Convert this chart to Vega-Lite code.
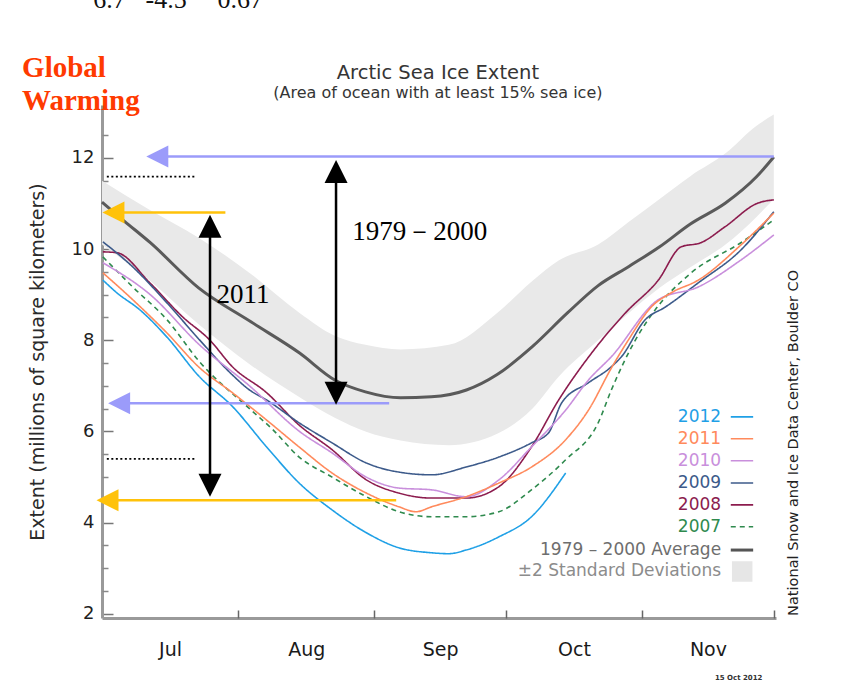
{
  "$schema": "https://vega.github.io/schema/vega-lite/v6.json",
  "width": 674,
  "height": 513,
  "autosize": {"type": "none"},
  "padding": {"left": 102, "top": 105, "right": 78, "bottom": 76},
  "background": "#ffffff",
  "config": {"view": {"stroke": null}, "font": "DejaVu Sans"},
  "datasets": {
    "band": [
      {"d": 0, "lo": 10.1, "hi": 11.5},
      {"d": 11, "lo": 9.3, "hi": 10.85},
      {"d": 22, "lo": 8.35, "hi": 10.25},
      {"d": 34, "lo": 7.45, "hi": 9.45},
      {"d": 45, "lo": 6.75, "hi": 8.6},
      {"d": 53, "lo": 6.3, "hi": 8.1},
      {"d": 60, "lo": 6.0, "hi": 7.9},
      {"d": 68, "lo": 5.8, "hi": 7.8},
      {"d": 79, "lo": 5.7, "hi": 7.9},
      {"d": 90, "lo": 5.95, "hi": 8.6},
      {"d": 98, "lo": 6.5, "hi": 9.3},
      {"d": 104, "lo": 7.2, "hi": 9.75},
      {"d": 113, "lo": 8.0, "hi": 10.1},
      {"d": 120, "lo": 8.6, "hi": 10.6},
      {"d": 127, "lo": 9.15, "hi": 11.1},
      {"d": 134, "lo": 9.6, "hi": 11.6},
      {"d": 142, "lo": 10.1, "hi": 12.1},
      {"d": 149, "lo": 10.7, "hi": 12.7},
      {"d": 153, "lo": 11.1, "hi": 12.95}
    ],
    "avg": [
      {"d": 0, "v": 11.03}, {"d": 5, "v": 10.62}, {"d": 11, "v": 10.14}, {"d": 22, "v": 9.15},
      {"d": 34, "v": 8.4}, {"d": 45, "v": 7.72}, {"d": 53, "v": 7.13}, {"d": 60, "v": 6.87},
      {"d": 68, "v": 6.74}, {"d": 75, "v": 6.76}, {"d": 83, "v": 6.91}, {"d": 90, "v": 7.25},
      {"d": 98, "v": 7.86}, {"d": 106, "v": 8.6}, {"d": 113, "v": 9.2}, {"d": 120, "v": 9.62},
      {"d": 127, "v": 10.05}, {"d": 134, "v": 10.55}, {"d": 142, "v": 11.01}, {"d": 149, "v": 11.58},
      {"d": 153, "v": 12.02}
    ],
    "years": [
      {"s": "2007", "d": 0.2, "v": 9.83}, {"s": "2007", "d": 7, "v": 9.17}, {"s": "2007", "d": 14.8, "v": 8.45},
      {"s": "2007", "d": 22.2, "v": 7.53}, {"s": "2007", "d": 33.6, "v": 6.5}, {"s": "2007", "d": 38.8, "v": 6.05},
      {"s": "2007", "d": 44.9, "v": 5.44}, {"s": "2007", "d": 52.4, "v": 5.0}, {"s": "2007", "d": 60.2, "v": 4.57},
      {"s": "2007", "d": 67.6, "v": 4.24}, {"s": "2007", "d": 75.1, "v": 4.13}, {"s": "2007", "d": 82.9, "v": 4.13},
      {"s": "2007", "d": 90.4, "v": 4.24}, {"s": "2007", "d": 97.8, "v": 4.72}, {"s": "2007", "d": 105.6, "v": 5.38},
      {"s": "2007", "d": 113, "v": 6.19}, {"s": "2007", "d": 116, "v": 6.91}, {"s": "2007", "d": 121.5, "v": 8.01},
      {"s": "2007", "d": 126, "v": 8.67}, {"s": "2007", "d": 134.2, "v": 9.48}, {"s": "2007", "d": 145.5, "v": 10.14},
      {"s": "2007", "d": 153, "v": 10.64},

      {"s": "2008", "d": 0.2, "v": 9.94}, {"s": "2008", "d": 3.4, "v": 9.92}, {"s": "2008", "d": 10.9, "v": 9.26},
      {"s": "2008", "d": 18.4, "v": 8.51}, {"s": "2008", "d": 24.5, "v": 8.01}, {"s": "2008", "d": 29.7, "v": 7.42},
      {"s": "2008", "d": 37.5, "v": 6.85}, {"s": "2008", "d": 44.9, "v": 6.14}, {"s": "2008", "d": 52.4, "v": 5.6},
      {"s": "2008", "d": 60.2, "v": 4.94}, {"s": "2008", "d": 67.6, "v": 4.65}, {"s": "2008", "d": 75.1, "v": 4.54},
      {"s": "2008", "d": 82.9, "v": 4.54}, {"s": "2008", "d": 90.4, "v": 4.79}, {"s": "2008", "d": 97.8, "v": 5.66},
      {"s": "2008", "d": 104, "v": 6.69}, {"s": "2008", "d": 111.5, "v": 7.72}, {"s": "2008", "d": 119.2, "v": 8.6},
      {"s": "2008", "d": 126.7, "v": 9.32}, {"s": "2008", "d": 131.9, "v": 10.05}, {"s": "2008", "d": 136.4, "v": 10.14},
      {"s": "2008", "d": 141.9, "v": 10.49}, {"s": "2008", "d": 149.4, "v": 11.01}, {"s": "2008", "d": 153, "v": 11.08},

      {"s": "2009", "d": 0.2, "v": 10.16}, {"s": "2009", "d": 7, "v": 9.61}, {"s": "2009", "d": 14.8, "v": 8.82},
      {"s": "2009", "d": 22.2, "v": 8.01}, {"s": "2009", "d": 29.7, "v": 7.24}, {"s": "2009", "d": 33.6, "v": 6.91},
      {"s": "2009", "d": 37.5, "v": 6.69}, {"s": "2009", "d": 44.9, "v": 6.19}, {"s": "2009", "d": 52.4, "v": 5.75},
      {"s": "2009", "d": 60.2, "v": 5.31}, {"s": "2009", "d": 67.6, "v": 5.11}, {"s": "2009", "d": 75.1, "v": 5.05},
      {"s": "2009", "d": 82.9, "v": 5.22}, {"s": "2009", "d": 90.4, "v": 5.44}, {"s": "2009", "d": 97.8, "v": 5.75},
      {"s": "2009", "d": 101.7, "v": 5.97}, {"s": "2009", "d": 104.7, "v": 6.63}, {"s": "2009", "d": 110.8, "v": 7.07},
      {"s": "2009", "d": 116, "v": 7.42}, {"s": "2009", "d": 118.3, "v": 7.64}, {"s": "2009", "d": 123.7, "v": 8.45},
      {"s": "2009", "d": 128.3, "v": 8.73}, {"s": "2009", "d": 135.8, "v": 9.26}, {"s": "2009", "d": 145.5, "v": 9.98},
      {"s": "2009", "d": 153, "v": 10.82},

      {"s": "2010", "d": 0.2, "v": 9.7}, {"s": "2010", "d": 11, "v": 9.0}, {"s": "2010", "d": 22.2, "v": 7.9},
      {"s": "2010", "d": 33.6, "v": 7.0}, {"s": "2010", "d": 45, "v": 6.0}, {"s": "2010", "d": 52.4, "v": 5.53},
      {"s": "2010", "d": 60.2, "v": 5.0}, {"s": "2010", "d": 67.6, "v": 4.76}, {"s": "2010", "d": 75.1, "v": 4.72},
      {"s": "2010", "d": 82.9, "v": 4.57}, {"s": "2010", "d": 90.4, "v": 4.94}, {"s": "2010", "d": 97.8, "v": 5.66},
      {"s": "2010", "d": 105.6, "v": 6.47}, {"s": "2010", "d": 110.8, "v": 7.13}, {"s": "2010", "d": 116, "v": 7.64},
      {"s": "2010", "d": 126.7, "v": 8.89}, {"s": "2010", "d": 135.8, "v": 9.17}, {"s": "2010", "d": 145.5, "v": 9.76},
      {"s": "2010", "d": 153, "v": 10.31},

      {"s": "2011", "d": 0.2, "v": 9.48}, {"s": "2011", "d": 7, "v": 8.89}, {"s": "2011", "d": 14.8, "v": 8.16},
      {"s": "2011", "d": 22.2, "v": 7.4}, {"s": "2011", "d": 29.7, "v": 6.85}, {"s": "2011", "d": 37.5, "v": 6.25},
      {"s": "2011", "d": 44.9, "v": 5.66}, {"s": "2011", "d": 52.4, "v": 5.09}, {"s": "2011", "d": 60.2, "v": 4.65},
      {"s": "2011", "d": 67.6, "v": 4.35}, {"s": "2011", "d": 71.5, "v": 4.24}, {"s": "2011", "d": 75.1, "v": 4.35},
      {"s": "2011", "d": 82.9, "v": 4.57}, {"s": "2011", "d": 90.4, "v": 4.87}, {"s": "2011", "d": 97.8, "v": 5.22},
      {"s": "2011", "d": 105.6, "v": 5.82}, {"s": "2011", "d": 110.8, "v": 6.47}, {"s": "2011", "d": 116, "v": 7.39},
      {"s": "2011", "d": 119.9, "v": 8.01}, {"s": "2011", "d": 125.1, "v": 8.73}, {"s": "2011", "d": 129.6, "v": 9.04},
      {"s": "2011", "d": 135.8, "v": 9.32}, {"s": "2011", "d": 145.5, "v": 10.09}, {"s": "2011", "d": 153, "v": 10.79},

      {"s": "2012", "d": 0.2, "v": 9.32}, {"s": "2012", "d": 3.4, "v": 9.04}, {"s": "2012", "d": 8.6, "v": 8.67},
      {"s": "2012", "d": 14.8, "v": 8.07}, {"s": "2012", "d": 22.2, "v": 7.2}, {"s": "2012", "d": 29.7, "v": 6.55},
      {"s": "2012", "d": 37.5, "v": 5.66}, {"s": "2012", "d": 44.9, "v": 4.87}, {"s": "2012", "d": 52.4, "v": 4.28},
      {"s": "2012", "d": 60.2, "v": 3.78}, {"s": "2012", "d": 67.6, "v": 3.45}, {"s": "2012", "d": 75.1, "v": 3.34},
      {"s": "2012", "d": 79, "v": 3.32}, {"s": "2012", "d": 82.9, "v": 3.4}, {"s": "2012", "d": 90.4, "v": 3.69},
      {"s": "2012", "d": 97.8, "v": 4.13}, {"s": "2012", "d": 105.6, "v": 5.09}
    ],
    "legend": [
      {"s": "2012", "label": "2012", "v": 6.32},
      {"s": "2011", "label": "2011", "v": 5.84},
      {"s": "2010", "label": "2010", "v": 5.36},
      {"s": "2009", "label": "2009", "v": 4.87},
      {"s": "2008", "label": "2008", "v": 4.39},
      {"s": "2007", "label": "2007", "v": 3.91},
      {"s": "avg", "label": "1979 – 2000 Average", "v": 3.4},
      {"s": "sd", "label": "±2 Standard Deviations", "v": 2.93}
    ],
    "hShafts": [
      {"kind": "1979–2000", "d1": 13, "d2": 153, "v": 12.03},
      {"kind": "1979–2000", "d1": 4.5, "d2": 65.4, "v": 6.62},
      {"kind": "2011", "d1": 3, "d2": 28.1, "v": 10.8},
      {"kind": "2011", "d1": 2, "d2": 67, "v": 4.49}
    ],
    "leftHeads": [
      {"kind": "1979–2000", "d": 12.6, "v": 12.03},
      {"kind": "1979–2000", "d": 3.9, "v": 6.62},
      {"kind": "2011", "d": 2.6, "v": 10.8},
      {"kind": "2011", "d": 1.25, "v": 4.49}
    ],
    "vShafts": [
      {"kind": "1979–2000", "d": 53.3, "v1": 11.7, "v2": 6.84},
      {"kind": "2011", "d": 24.6, "v1": 10.5, "v2": 4.82}
    ],
    "upHeads": [
      {"kind": "1979–2000", "d": 53.3, "v": 11.7},
      {"kind": "2011", "d": 24.6, "v": 10.5}
    ],
    "downHeads": [
      {"kind": "1979–2000", "d": 53.3, "v": 6.84},
      {"kind": "2011", "d": 24.6, "v": 4.82}
    ],
    "dotted": [
      {"d1": 1.1, "d2": 21.1, "v": 11.59},
      {"d1": 1.1, "d2": 21.1, "v": 5.4}
    ],
    "notes": [
      {"t": "1979－2000", "d": 57, "v": 10.37},
      {"t": "2011", "d": 26.1, "v": 9.0}
    ],
    "heading": [
      {"t": "Global", "d": -18.2, "v": 13.78},
      {"t": "Warming", "d": -18.2, "v": 13.05}
    ],
    "chartTitle": [
      {"t": "Arctic Sea Ice Extent", "d": 76.5, "v": 13.86, "kind": "main"},
      {"t": "(Area of ocean with at least 15% sea ice)", "d": 76.5, "v": 13.43, "kind": "sub"}
    ],
    "topcut": [
      {"t": "6.7", "d": -2.0, "v": 15.28},
      {"t": "-4.5", "d": 9.9, "v": 15.28},
      {"t": "0.67", "d": 26.3, "v": 15.28}
    ],
    "source": [
      {"t": "National Snow and Ice Data Center, Boulder CO", "d": 157.5, "v": 5.75}
    ],
    "stamp": [
      {"t": "15 Oct 2012", "d": 145, "v": 0.6}
    ]
  },
  "layer": [
    {
      "data": {"name": "band"},
      "mark": {"type": "area", "color": "#e9e9e9", "opacity": 1, "interpolate": "monotone"},
      "encoding": {
        "x": {"field": "d", "type": "quantitative", "scale": {"domain": [0, 153.5], "nice": false, "zero": false},
          "axis": {"orient": "bottom", "values": [15.5, 46.5, 77, 107.5, 138],
            "labelExpr": "datum.value < 30 ? 'Jul' : datum.value < 60 ? 'Aug' : datum.value < 90 ? 'Sep' : datum.value < 120 ? 'Oct' : 'Nov'",
            "ticks": false, "grid": false, "domainColor": "#9a9a9a", "domainWidth": 3,
            "labelFont": "DejaVu Sans", "labelFontSize": 19, "labelColor": "#1a1a1a", "labelPadding": 22, "title": null}},
        "y": {"field": "lo", "type": "quantitative", "scale": {"domain": [1.91, 13.16], "nice": false, "zero": false},
          "axis": {"orient": "left", "values": [2, 4, 6, 8, 10, 12], "tickSize": -11, "tickColor": "#777", "tickWidth": 1.5,
            "domainColor": "#9a9a9a", "domainWidth": 3, "grid": false,
            "labelFont": "DejaVu Sans", "labelFontSize": 18, "labelColor": "#1f1f1f", "labelPadding": 19,
            "title": "Extent (millions of square kilometers)", "titleFont": "DejaVu Sans", "titleFontSize": 19,
            "titleFontWeight": "normal", "titleColor": "#2a2a2a", "titlePadding": 24}},
        "y2": {"field": "hi"}
      }
    },
    {
      "data": {"name": "avg"},
      "mark": {"type": "line", "color": "#5a5a5a", "strokeWidth": 3, "interpolate": "monotone"},
      "encoding": {
        "x": {"field": "d", "type": "quantitative", "scale": {"domain": [0, 153.5], "nice": false, "zero": false},
          "axis": {"orient": "bottom", "values": [31, 62, 92, 123, 153], "tickSize": -8, "tickColor": "#666", "tickWidth": 1.5,
            "labels": false, "domain": false, "grid": false, "title": null}},
        "y": {"field": "v", "type": "quantitative", "scale": {"domain": [1.91, 13.16], "nice": false, "zero": false},
          "axis": {"orient": "left", "values": [2.5, 3, 3.5, 4.5, 5, 5.5, 6.5, 7, 7.5, 8.5, 9, 9.5, 10.5, 11, 11.5, 12.5],
            "tickSize": -6, "tickColor": "#888", "tickWidth": 1.5, "labels": false, "domain": false, "grid": false, "title": null}}
      }
    },
    {
      "data": {"name": "years"},
      "mark": {"type": "line", "strokeWidth": 1.6, "interpolate": "monotone"},
      "encoding": {
        "x": {"field": "d", "type": "quantitative", "scale": {"domain": [0, 153.5], "nice": false, "zero": false}, "axis": null},
        "y": {"field": "v", "type": "quantitative", "scale": {"domain": [1.91, 13.16], "nice": false, "zero": false}, "axis": null},
        "color": {"field": "s", "type": "nominal", "legend": null,
          "scale": {"domain": ["2007", "2008", "2009", "2010", "2011", "2012"],
            "range": ["#2f8a4e", "#8c1c4e", "#3c5a8a", "#c98fdc", "#ff8a5c", "#1fa0e6"]}},
        "strokeDash": {"field": "s", "type": "nominal", "legend": null,
          "scale": {"domain": ["2007", "2008", "2009", "2010", "2011", "2012"],
            "range": [[5, 4], [1, 0], [1, 0], [1, 0], [1, 0], [1, 0]]}}
      }
    },
    {
      "data": {"name": "hShafts"},
      "mark": {"type": "rule", "strokeWidth": 2.5},
      "encoding": {
        "x": {"field": "d1", "type": "quantitative", "scale": {"domain": [0, 153.5], "nice": false, "zero": false}, "axis": null},
        "x2": {"field": "d2"},
        "y": {"field": "v", "type": "quantitative", "scale": {"domain": [1.91, 13.16], "nice": false, "zero": false}, "axis": null},
        "color": {"field": "kind", "type": "nominal", "legend": null,
          "scale": {"domain": ["1979–2000", "2011"], "range": ["#9b9bfa", "#ffc20a"]}}
      }
    },
    {
      "data": {"name": "leftHeads"},
      "mark": {"type": "point", "filled": true, "opacity": 1, "size": 484, "shape": "M-1,0L1,-1L1,1Z"},
      "encoding": {
        "x": {"field": "d", "type": "quantitative", "scale": {"domain": [0, 153.5], "nice": false, "zero": false}, "axis": null},
        "y": {"field": "v", "type": "quantitative", "scale": {"domain": [1.91, 13.16], "nice": false, "zero": false}, "axis": null},
        "color": {"field": "kind", "type": "nominal", "legend": null,
          "scale": {"domain": ["1979–2000", "2011"], "range": ["#9b9bfa", "#ffc20a"]}}
      }
    },
    {
      "data": {"name": "vShafts"},
      "mark": {"type": "rule", "strokeWidth": 2.5, "color": "#000000"},
      "encoding": {
        "x": {"field": "d", "type": "quantitative", "scale": {"domain": [0, 153.5], "nice": false, "zero": false}, "axis": null},
        "y": {"field": "v1", "type": "quantitative", "scale": {"domain": [1.91, 13.16], "nice": false, "zero": false}, "axis": null},
        "y2": {"field": "v2"}
      }
    },
    {
      "data": {"name": "upHeads"},
      "mark": {"type": "point", "filled": true, "opacity": 1, "size": 529, "color": "#000000", "shape": "M0,-1L1,1L-1,1Z"},
      "encoding": {
        "x": {"field": "d", "type": "quantitative", "scale": {"domain": [0, 153.5], "nice": false, "zero": false}, "axis": null},
        "y": {"field": "v", "type": "quantitative", "scale": {"domain": [1.91, 13.16], "nice": false, "zero": false}, "axis": null}
      }
    },
    {
      "data": {"name": "downHeads"},
      "mark": {"type": "point", "filled": true, "opacity": 1, "size": 529, "color": "#000000", "shape": "M0,1L1,-1L-1,-1Z"},
      "encoding": {
        "x": {"field": "d", "type": "quantitative", "scale": {"domain": [0, 153.5], "nice": false, "zero": false}, "axis": null},
        "y": {"field": "v", "type": "quantitative", "scale": {"domain": [1.91, 13.16], "nice": false, "zero": false}, "axis": null}
      }
    },
    {
      "data": {"name": "dotted"},
      "mark": {"type": "rule", "strokeWidth": 1.6, "strokeDash": [2, 2.5], "color": "#000000"},
      "encoding": {
        "x": {"field": "d1", "type": "quantitative", "scale": {"domain": [0, 153.5], "nice": false, "zero": false}, "axis": null},
        "x2": {"field": "d2"},
        "y": {"field": "v", "type": "quantitative", "scale": {"domain": [1.91, 13.16], "nice": false, "zero": false}, "axis": null}
      }
    },
    {
      "data": {"name": "notes"},
      "mark": {"type": "text", "font": "Liberation Serif", "fontSize": 27, "color": "#000000", "align": "left", "baseline": "middle"},
      "encoding": {
        "x": {"field": "d", "type": "quantitative", "scale": {"domain": [0, 153.5], "nice": false, "zero": false}, "axis": null},
        "y": {"field": "v", "type": "quantitative", "scale": {"domain": [1.91, 13.16], "nice": false, "zero": false}, "axis": null},
        "text": {"field": "t"}
      }
    },
    {
      "data": {"name": "heading"},
      "mark": {"type": "text", "font": "Liberation Serif", "fontSize": 29, "fontWeight": "bold", "color": "#ff3a00", "align": "left", "baseline": "alphabetic"},
      "encoding": {
        "x": {"field": "d", "type": "quantitative", "scale": {"domain": [0, 153.5], "nice": false, "zero": false}, "axis": null},
        "y": {"field": "v", "type": "quantitative", "scale": {"domain": [1.91, 13.16], "nice": false, "zero": false}, "axis": null},
        "text": {"field": "t"}
      }
    },
    {
      "data": {"name": "chartTitle"},
      "mark": {"type": "text", "font": "DejaVu Sans", "color": "#353535", "align": "center", "baseline": "middle"},
      "encoding": {
        "x": {"field": "d", "type": "quantitative", "scale": {"domain": [0, 153.5], "nice": false, "zero": false}, "axis": null},
        "y": {"field": "v", "type": "quantitative", "scale": {"domain": [1.91, 13.16], "nice": false, "zero": false}, "axis": null},
        "text": {"field": "t"},
        "size": {"field": "kind", "type": "nominal", "legend": null,
          "scale": {"domain": ["main", "sub"], "range": [19.5, 16]}}
      }
    },
    {
      "data": {"name": "topcut"},
      "mark": {"type": "text", "font": "Liberation Serif", "fontSize": 26, "color": "#111111", "align": "left", "baseline": "alphabetic"},
      "encoding": {
        "x": {"field": "d", "type": "quantitative", "scale": {"domain": [0, 153.5], "nice": false, "zero": false}, "axis": null},
        "y": {"field": "v", "type": "quantitative", "scale": {"domain": [1.91, 13.16], "nice": false, "zero": false}, "axis": null},
        "text": {"field": "t"}
      }
    },
    {
      "data": {"name": "source"},
      "mark": {"type": "text", "font": "DejaVu Sans", "fontSize": 14.5, "color": "#222222", "angle": 270, "align": "center", "baseline": "middle"},
      "encoding": {
        "x": {"field": "d", "type": "quantitative", "scale": {"domain": [0, 153.5], "nice": false, "zero": false}, "axis": null},
        "y": {"field": "v", "type": "quantitative", "scale": {"domain": [1.91, 13.16], "nice": false, "zero": false}, "axis": null},
        "text": {"field": "t"}
      }
    },
    {
      "data": {"name": "stamp"},
      "mark": {"type": "text", "font": "DejaVu Sans", "fontSize": 7, "fontWeight": "bold", "color": "#333333", "align": "center", "baseline": "middle"},
      "encoding": {
        "x": {"field": "d", "type": "quantitative", "scale": {"domain": [0, 153.5], "nice": false, "zero": false}, "axis": null},
        "y": {"field": "v", "type": "quantitative", "scale": {"domain": [1.91, 13.16], "nice": false, "zero": false}, "axis": null},
        "text": {"field": "t"}
      }
    },
    {
      "data": {"name": "legend"},
      "mark": {"type": "text", "font": "DejaVu Sans", "fontSize": 17, "align": "right", "baseline": "middle"},
      "encoding": {
        "x": {"datum": 141, "type": "quantitative", "scale": {"domain": [0, 153.5], "nice": false, "zero": false}, "axis": null},
        "y": {"field": "v", "type": "quantitative", "scale": {"domain": [1.91, 13.16], "nice": false, "zero": false}, "axis": null},
        "text": {"field": "label"},
        "color": {"field": "s", "type": "nominal", "legend": null,
          "scale": {"domain": ["2012", "2011", "2010", "2009", "2008", "2007", "avg", "sd"],
            "range": ["#1fa0e6", "#ff8a5c", "#c98fdc", "#3c5a8a", "#8c1c4e", "#2f8a4e", "#6e6e6e", "#8c8c8c"]}}
      }
    },
    {
      "data": {"name": "legend"},
      "transform": [{"filter": "datum.s != 'avg' && datum.s != 'sd'"}],
      "mark": {"type": "rule", "strokeWidth": 1.6},
      "encoding": {
        "x": {"datum": 143.2, "type": "quantitative", "scale": {"domain": [0, 153.5], "nice": false, "zero": false}, "axis": null},
        "x2": {"datum": 148.3},
        "y": {"field": "v", "type": "quantitative", "scale": {"domain": [1.91, 13.16], "nice": false, "zero": false}, "axis": null},
        "color": {"field": "s", "type": "nominal", "legend": null,
          "scale": {"domain": ["2007", "2008", "2009", "2010", "2011", "2012"],
            "range": ["#2f8a4e", "#8c1c4e", "#3c5a8a", "#c98fdc", "#ff8a5c", "#1fa0e6"]}},
        "strokeDash": {"field": "s", "type": "nominal", "legend": null,
          "scale": {"domain": ["2007", "2008", "2009", "2010", "2011", "2012"],
            "range": [[5, 4], [1, 0], [1, 0], [1, 0], [1, 0], [1, 0]]}}
      }
    },
    {
      "data": {"name": "legend"},
      "transform": [{"filter": "datum.s == 'avg'"}],
      "mark": {"type": "rule", "strokeWidth": 3, "color": "#555555"},
      "encoding": {
        "x": {"datum": 143.2, "type": "quantitative", "scale": {"domain": [0, 153.5], "nice": false, "zero": false}, "axis": null},
        "x2": {"datum": 148.3},
        "y": {"field": "v", "type": "quantitative", "scale": {"domain": [1.91, 13.16], "nice": false, "zero": false}, "axis": null}
      }
    },
    {
      "data": {"name": "legend"},
      "transform": [{"filter": "datum.s == 'sd'"}],
      "mark": {"type": "point", "shape": "square", "filled": true, "opacity": 1, "size": 420, "color": "#e6e6e6"},
      "encoding": {
        "x": {"datum": 145.8, "type": "quantitative", "scale": {"domain": [0, 153.5], "nice": false, "zero": false}, "axis": null},
        "y": {"field": "v", "type": "quantitative", "scale": {"domain": [1.91, 13.16], "nice": false, "zero": false}, "axis": null}
      }
    }
  ],
  "resolve": {
    "scale": {"color": "independent", "strokeDash": "independent", "size": "independent"},
    "axis": {"x": "independent", "y": "independent"}
  }
}
